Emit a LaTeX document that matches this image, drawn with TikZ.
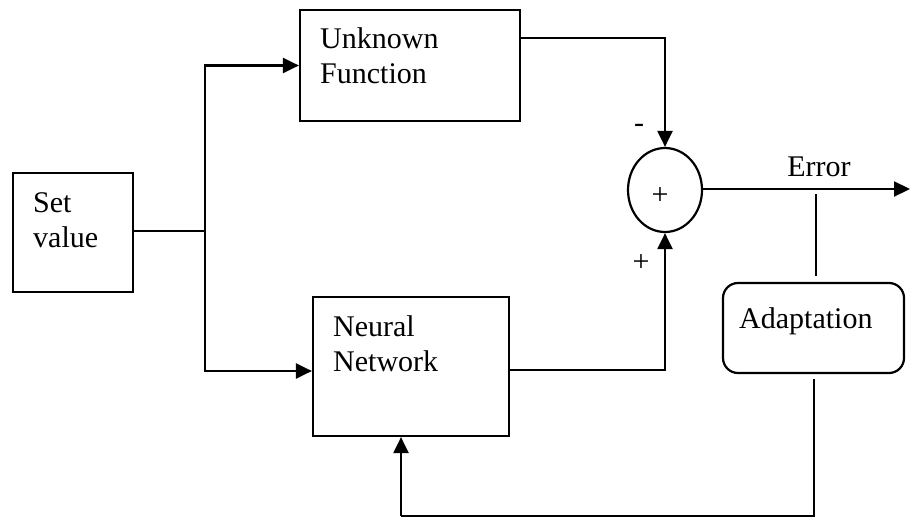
\documentclass[tikz,border=0pt]{standalone}
\usepackage{fontspec}
\setmainfont{Liberation Serif}
\usetikzlibrary{arrows.meta,shapes.geometric}
\begin{document}
\begin{tikzpicture}[x=1pt,y=-1pt,
  every node/.style={font=\fontsize{30}{35}\selectfont},
  blk/.style={draw,line width=2.2pt,rectangle,inner sep=0pt},
  lbl/.style={anchor=base west,align=left,inner sep=0pt},
  conn/.style={line width=2.2pt},
  arr/.style={conn,-{Triangle[length=16pt,width=15pt]}}]
\useasboundingbox (0,0) rectangle (910,519);
% blocks
\node[blk,minimum width=120pt,minimum height=119pt] (sv) at (73,232.5) {};
\node[blk,minimum width=220pt,minimum height=111pt] (uf) at (410,65.5) {};
\node[blk,minimum width=196pt,minimum height=139pt] (nn) at (411,366.5) {};
\node[blk,rounded corners=15pt,minimum width=181pt,minimum height=90pt] (ad) at (813.5,328) {};
\node[draw,line width=2.2pt,ellipse,minimum width=74pt,minimum height=84pt,inner sep=0pt] (sum) at (665,190) {};
% texts (anchor is the baseline of the last line)
\node[lbl] (tsv) at (33,247) {Set\\value};
\node[lbl] (tuf) at (320,83) {Unknown\\Function};
\node[lbl] (tnn) at (333,371) {Neural\\Network};
\node[lbl] (tad) at (739,328) {Adaptation};
\node[anchor=base,inner sep=0pt] (terr) at (819,176) {Error};
\node[anchor=center,inner sep=0pt] (plusc) at (660,196) {+};
\node[anchor=center,inner sep=0pt] (minus) at (639,128) {-};
\node[anchor=center,inner sep=0pt] (plusb) at (641,263) {+};
% coordinates
\coordinate (br) at (205,231);
\coordinate (eout) at (910,189);
\coordinate (etap) at (816,194);
\coordinate (fbr) at (814,516);
\coordinate (fbl) at (401,516);
% connectors
\draw[conn] (sv.east |- br) -- (br);
\draw[arr] (br) |- (uf.west);
\draw[arr] (br) |- (nn.west |- 0,371);
\draw[arr] (uf.east |- 0,38) -| (sum.north);
\draw[arr] (nn.east |- 0,370) -| (sum.south);
\draw[arr] (sum.east |- eout) -- (eout);
\draw[conn,shorten >=6pt] (etap) -- (etap |- ad.north);
\draw[conn,shorten <=5pt] (fbr |- ad.south) -- (fbr) -- (fbl);
\draw[arr] (fbl) -- (fbl |- nn.south);
\end{tikzpicture}
\end{document}
